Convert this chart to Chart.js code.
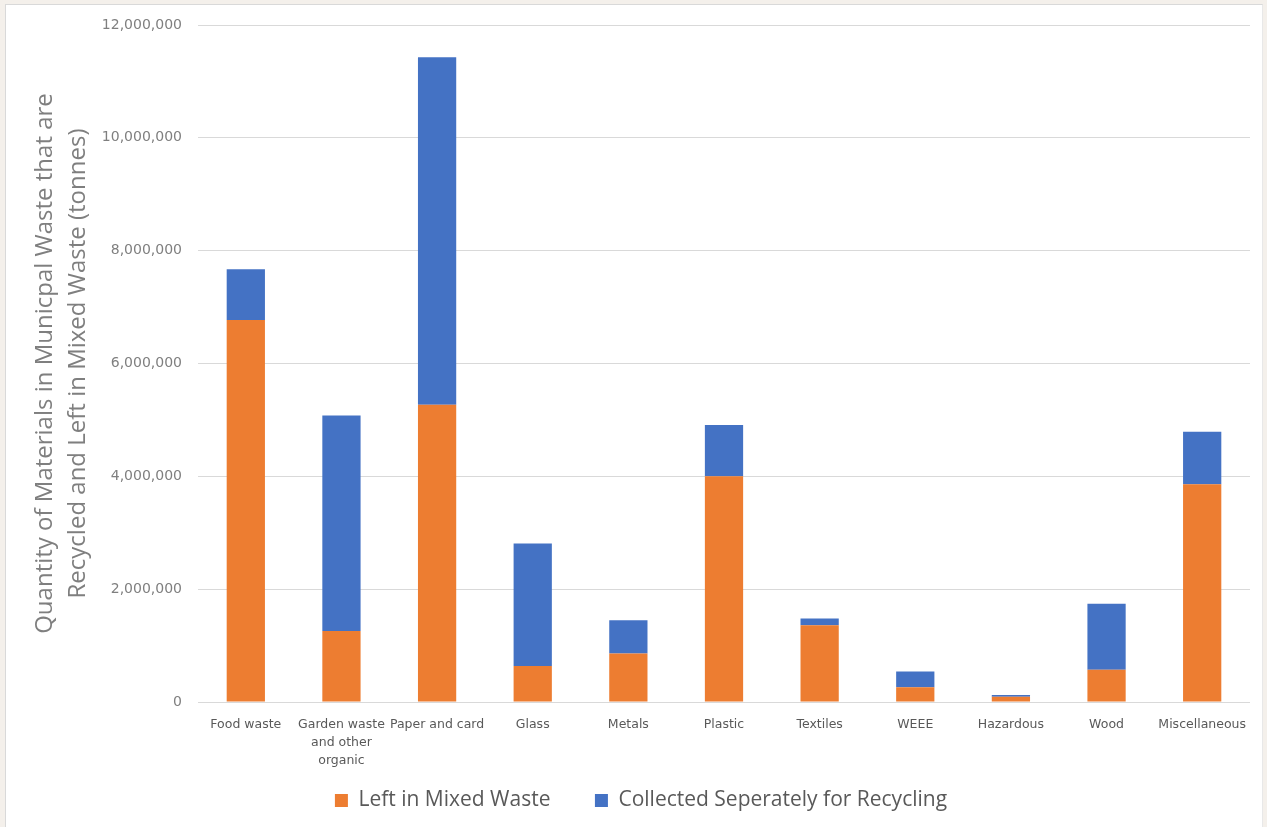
<!DOCTYPE html>
<html>
<head>
<meta charset="utf-8">
<title>Materials in Municipal Waste</title>
<script src="https://cdn.jsdelivr.net/npm/chart.js@4/dist/chart.umd.min.js"></script>
<style>
  html, body { margin: 0; padding: 0; width: 1267px; height: 827px; overflow: hidden; background: #f4f0eb; }
  #panel { position: absolute; left: 5px; top: 4px; width: 1256px; height: 823px; background: #ffffff;
           border-top: 1px solid #d9d9d9; border-left: 1px solid #d9d9d9; border-right: 1px solid #e8e8e8; }
  canvas { display: block; }
</style>
</head>
<body>
<div id="panel"><canvas id="chart" width="1256" height="822"></canvas></div>
<script>
// Material categories (multi-line labels are arrays)
const categories = [
  ["Food waste"],
  ["Garden waste", "and other", "organic"],
  ["Paper and card"],
  ["Glass"],
  ["Metals"],
  ["Plastic"],
  ["Textiles"],
  ["WEEE"],
  ["Hazardous"],
  ["Wood"],
  ["Miscellaneous"]
];

// Tonnes left in mixed (residual) waste
const leftInMixed = [6770000, 1260000, 5270000, 640000, 860000, 4000000, 1360000, 260000, 95000, 570000, 3860000];

// Tonnes collected separately for recycling
const collectedSeparately = [900000, 3820000, 6160000, 2170000, 590000, 910000, 120000, 280000, 30000, 1170000, 930000];

// Value axis ticks
const yTickMax = 12000000;
const yTickStep = 2000000;

const seriesNames = ["Left in Mixed Waste", "Collected Seperately for Recycling"];
const axisTitle = ["Quantity of Materials in Municpal Waste that are", "Recycled and Left in Mixed Waste (tonnes)"];

// The category axis box is kept short so the legend sits close to it;
// extend its clip region downwards so three-line labels stay visible.
const labelRoom = {
  id: "labelRoom",
  afterLayout(chart) {
    const x = chart.scales.x;
    x.bottom = x.top + 80;
  }
};

new Chart(document.getElementById("chart"), {
  type: "bar",
  data: {
    labels: categories,
    datasets: [
      { label: seriesNames[0], data: leftInMixed, backgroundColor: "#ED7D31", borderWidth: 0,
        barPercentage: 0.8, categoryPercentage: 0.5 },
      { label: seriesNames[1], data: collectedSeparately, backgroundColor: "#4472C4", borderWidth: 0,
        barPercentage: 0.8, categoryPercentage: 0.5 }
    ]
  },
  plugins: [labelRoom],
  options: {
    responsive: false,
    animation: false,
    devicePixelRatio: 1,
    layout: { padding: { left: 26, right: 12, top: 20, bottom: 6 } },
    plugins: {
      tooltip: { enabled: false },
      title: { display: false },
      legend: {
        position: "bottom",
        align: "center",
        labels: {
          boxWidth: 13,
          boxHeight: 13,
          padding: 44.5,
          color: "#595959",
          font: { family: "'Open Sans', sans-serif", size: 21 }
        }
      }
    },
    scales: {
      x: {
        stacked: true,
        grid: { display: false },
        border: { display: false },
        ticks: {
          color: "#595959",
          padding: 5.5,
          maxRotation: 0,
          autoSkip: false,
          font: { family: "'DejaVu Sans', sans-serif", size: 12.5, lineHeight: 1.44 }
        },
        afterFit(scale) { scale.height = 43.5; }
      },
      y: {
        stacked: true,
        min: 0,
        max: yTickMax,
        grid: { color: "#d9d9d9", lineWidth: 1, drawTicks: false },
        border: { display: false },
        ticks: {
          stepSize: yTickStep,
          padding: 16,
          color: "#7f7f7f",
          font: { family: "'DejaVu Sans', sans-serif", size: 14 },
          callback: (v) => Number(v).toLocaleString("en-US")
        },
        title: {
          display: true,
          text: axisTitle,
          color: "#7f7f7f",
          padding: { top: -3, bottom: 0 },
          font: { family: "'Open Sans', sans-serif", size: 24, lineHeight: 1.375 }
        },
        afterFit(scale) {
          scale.width = 166;
          scale.paddingTop = 0;
          scale.paddingBottom = 0;
        }
      }
    }
  }
});
</script>
</body>
</html>
